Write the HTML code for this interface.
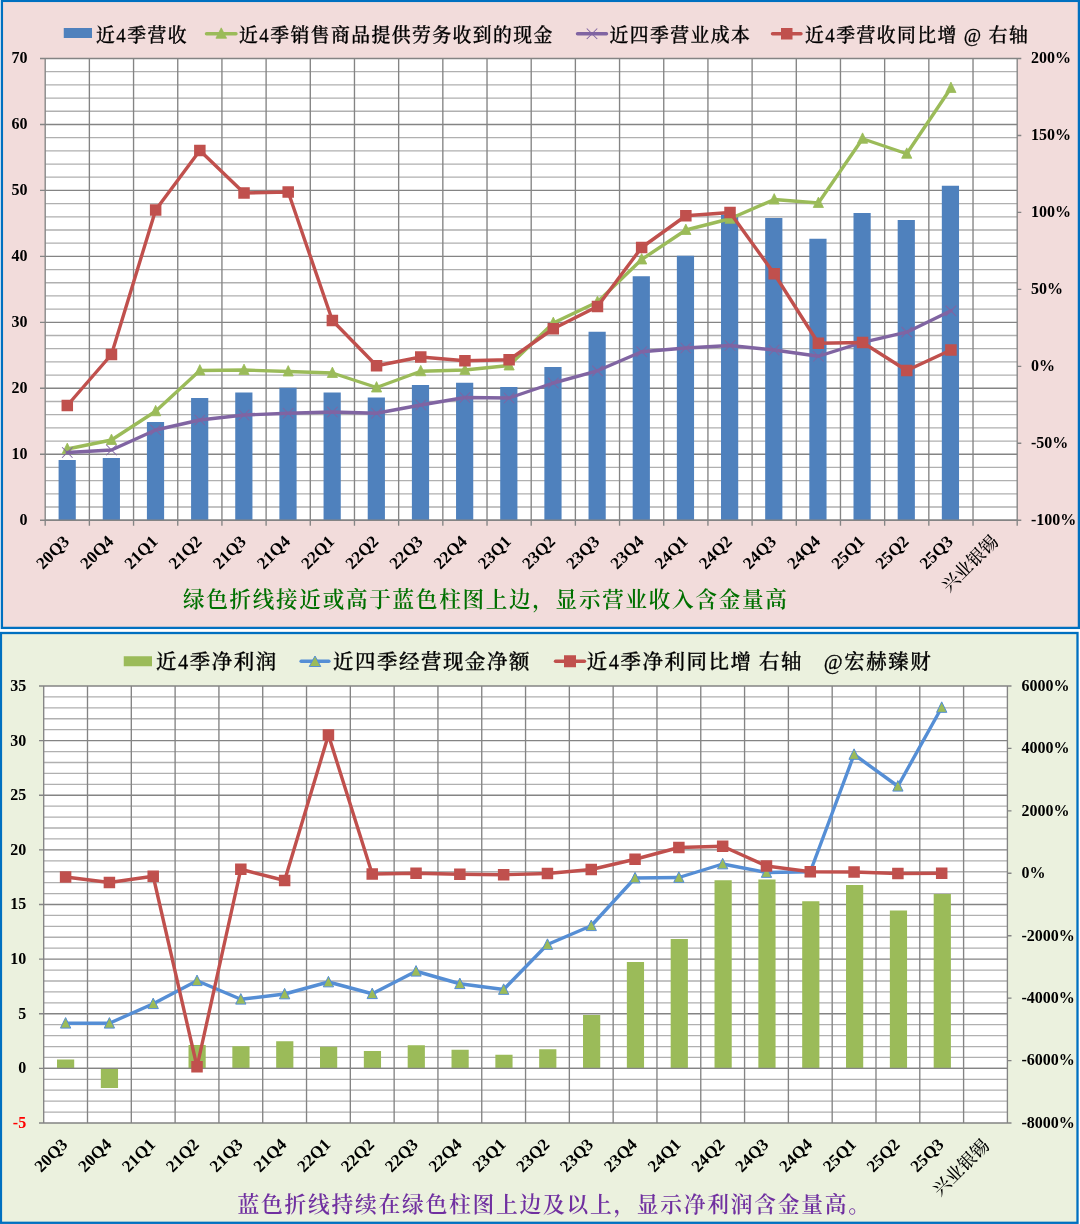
<!DOCTYPE html>
<html lang="zh-CN">
<head>
<meta charset="utf-8">
<title>兴业银锡</title>
<style>
html,body{margin:0;padding:0;background:#fff;}
body{width:1080px;height:1224px;overflow:hidden;font-family:"Liberation Serif","Noto Serif CJK SC",serif;}
svg{display:block;}
</style>
</head>
<body>
<svg width="1080" height="1224" viewBox="0 0 1080 1224">

<g>
<rect x="1.9" y="0.9" width="1077" height="627" fill="#F2DCDB" stroke="#0070C0" stroke-width="2.3"/>
<rect x="45.2" y="58.5" width="972" height="461.7" fill="#fff"/>
<path d="M45.2 71.69H1017.2M45.2 84.88H1017.2M45.2 98.07H1017.2M45.2 111.27H1017.2M45.2 137.65H1017.2M45.2 150.84H1017.2M45.2 164.03H1017.2M45.2 177.22H1017.2M45.2 203.61H1017.2M45.2 216.8H1017.2M45.2 229.99H1017.2M45.2 243.18H1017.2M45.2 269.56H1017.2M45.2 282.75H1017.2M45.2 295.95H1017.2M45.2 309.14H1017.2M45.2 335.52H1017.2M45.2 348.71H1017.2M45.2 361.9H1017.2M45.2 375.09H1017.2M45.2 401.48H1017.2M45.2 414.67H1017.2M45.2 427.86H1017.2M45.2 441.05H1017.2M45.2 467.43H1017.2M45.2 480.63H1017.2M45.2 493.82H1017.2M45.2 507.01H1017.2" stroke="#B0B0B0" stroke-width="1.3" fill="none"/>
<path d="M40 58.5H1017.2M40 124.46H1017.2M40 190.41H1017.2M40 256.37H1017.2M40 322.33H1017.2M40 388.29H1017.2M40 454.24H1017.2M40 520.2H1017.2M45.2 58.5V525.8M89.38 58.5V525.8M133.56 58.5V525.8M177.75 58.5V525.8M221.93 58.5V525.8M266.11 58.5V525.8M310.29 58.5V525.8M354.47 58.5V525.8M398.65 58.5V525.8M442.84 58.5V525.8M487.02 58.5V525.8M531.2 58.5V525.8M575.38 58.5V525.8M619.56 58.5V525.8M663.75 58.5V525.8M707.93 58.5V525.8M752.11 58.5V525.8M796.29 58.5V525.8M840.47 58.5V525.8M884.65 58.5V525.8M928.84 58.5V525.8M973.02 58.5V525.8M1017.2 58.5V525.8M1017.2 58.5H1021.3M1017.2 135.45H1021.3M1017.2 212.4H1021.3M1017.2 289.35H1021.3M1017.2 366.3H1021.3M1017.2 443.25H1021.3M1017.2 520.2H1021.3" stroke="#848484" stroke-width="1.35" fill="none"/>
<rect x="58.59" y="460" width="17.2" height="60.2" fill="#4F81BD"/>
<rect x="102.75" y="458" width="17.2" height="62.2" fill="#4F81BD"/>
<rect x="146.91" y="422" width="17.2" height="98.2" fill="#4F81BD"/>
<rect x="191.08" y="398" width="17.2" height="122.2" fill="#4F81BD"/>
<rect x="235.24" y="392.5" width="17.2" height="127.7" fill="#4F81BD"/>
<rect x="279.4" y="387.75" width="17.2" height="132.45" fill="#4F81BD"/>
<rect x="323.56" y="392.5" width="17.2" height="127.7" fill="#4F81BD"/>
<rect x="367.72" y="397.5" width="17.2" height="122.7" fill="#4F81BD"/>
<rect x="411.89" y="385" width="17.2" height="135.2" fill="#4F81BD"/>
<rect x="456.05" y="382.75" width="17.2" height="137.45" fill="#4F81BD"/>
<rect x="500.21" y="387" width="17.2" height="133.2" fill="#4F81BD"/>
<rect x="544.37" y="367" width="17.2" height="153.2" fill="#4F81BD"/>
<rect x="588.53" y="331.75" width="17.2" height="188.45" fill="#4F81BD"/>
<rect x="632.69" y="276.25" width="17.2" height="243.95" fill="#4F81BD"/>
<rect x="676.86" y="255.75" width="17.2" height="264.45" fill="#4F81BD"/>
<rect x="721.02" y="214.5" width="17.2" height="305.7" fill="#4F81BD"/>
<rect x="765.18" y="218" width="17.2" height="302.2" fill="#4F81BD"/>
<rect x="809.34" y="238.75" width="17.2" height="281.45" fill="#4F81BD"/>
<rect x="853.5" y="213" width="17.2" height="307.2" fill="#4F81BD"/>
<rect x="897.67" y="220" width="17.2" height="300.2" fill="#4F81BD"/>
<rect x="941.83" y="185.75" width="17.2" height="334.45" fill="#4F81BD"/>
<path d="M45.2 520.2H1017.2" stroke="#848484" stroke-width="1.35" fill="none"/>
<polyline points="67.29,449 111.47,440 155.65,411.25 199.84,370.5 244.02,370 288.2,371.5 332.38,373 376.56,387.5 420.75,371.25 464.93,370 509.11,365.5 553.29,323 597.47,302 641.65,259.5 685.84,230 730.02,218.75 774.2,199.5 818.38,203 862.56,138.75 906.75,153.75 950.93,88" fill="none" stroke="#9BBB59" stroke-width="3.4" stroke-linecap="round" stroke-linejoin="round"/>
<path d="M67.29 443.1 L72.39 453.5 L62.19 453.5 ZM111.47 434.1 L116.57 444.5 L106.37 444.5 ZM155.65 405.35 L160.75 415.75 L150.55 415.75 ZM199.84 364.6 L204.94 375 L194.74 375 ZM244.02 364.1 L249.12 374.5 L238.92 374.5 ZM288.2 365.6 L293.3 376 L283.1 376 ZM332.38 367.1 L337.48 377.5 L327.28 377.5 ZM376.56 381.6 L381.66 392 L371.46 392 ZM420.75 365.35 L425.85 375.75 L415.65 375.75 ZM464.93 364.1 L470.03 374.5 L459.83 374.5 ZM509.11 359.6 L514.21 370 L504.01 370 ZM553.29 317.1 L558.39 327.5 L548.19 327.5 ZM597.47 296.1 L602.57 306.5 L592.37 306.5 ZM641.65 253.6 L646.75 264 L636.55 264 ZM685.84 224.1 L690.94 234.5 L680.74 234.5 ZM730.02 212.85 L735.12 223.25 L724.92 223.25 ZM774.2 193.6 L779.3 204 L769.1 204 ZM818.38 197.1 L823.48 207.5 L813.28 207.5 ZM862.56 132.85 L867.66 143.25 L857.46 143.25 ZM906.75 147.85 L911.85 158.25 L901.65 158.25 ZM950.93 82.1 L956.03 92.5 L945.83 92.5 Z" fill="#9BBB59" stroke="#9BBB59" stroke-width="0.8" stroke-linejoin="miter"/>
<polyline points="67.29,452.5 111.47,450 155.65,430 199.84,420 244.02,415 288.2,413.25 332.38,412 376.56,413.25 420.75,405 464.93,397.5 509.11,398 553.29,383 597.47,370.8 641.65,351.75 685.84,348 730.02,345.5 774.2,350 818.38,356.25 862.56,342.3 906.75,332.2 950.93,310.8" fill="none" stroke="#8064A2" stroke-width="3.4" stroke-linecap="round" stroke-linejoin="round"/>
<path d="M62.04 447.25L72.54 457.75M62.04 457.75L72.54 447.25M106.22 444.75L116.72 455.25M106.22 455.25L116.72 444.75M150.4 424.75L160.9 435.25M150.4 435.25L160.9 424.75M194.59 414.75L205.09 425.25M194.59 425.25L205.09 414.75M238.77 409.75L249.27 420.25M238.77 420.25L249.27 409.75M282.95 408L293.45 418.5M282.95 418.5L293.45 408M327.13 406.75L337.63 417.25M327.13 417.25L337.63 406.75M371.31 408L381.81 418.5M371.31 418.5L381.81 408M415.5 399.75L426 410.25M415.5 410.25L426 399.75M459.68 392.25L470.18 402.75M459.68 402.75L470.18 392.25M503.86 392.75L514.36 403.25M503.86 403.25L514.36 392.75M548.04 377.75L558.54 388.25M548.04 388.25L558.54 377.75M592.22 365.55L602.72 376.05M592.22 376.05L602.72 365.55M636.4 346.5L646.9 357M636.4 357L646.9 346.5M680.59 342.75L691.09 353.25M680.59 353.25L691.09 342.75M724.77 340.25L735.27 350.75M724.77 350.75L735.27 340.25M768.95 344.75L779.45 355.25M768.95 355.25L779.45 344.75M813.13 351L823.63 361.5M813.13 361.5L823.63 351M857.31 337.05L867.81 347.55M857.31 347.55L867.81 337.05M901.5 326.95L912 337.45M901.5 337.45L912 326.95M945.68 305.55L956.18 316.05M945.68 316.05L956.18 305.55" fill="none" stroke="#8064A2" stroke-width="1.05"/>
<polyline points="67.29,405.5 111.47,354.5 155.65,210 199.84,150.5 244.02,193 288.2,192 332.38,320.5 376.56,365.75 420.75,357 464.93,360.75 509.11,359.75 553.29,328.75 597.47,306.5 641.65,247.5 685.84,215.75 730.02,212.5 774.2,273.75 818.38,343.25 862.56,342.5 906.75,370.5 950.93,350" fill="none" stroke="#C0504D" stroke-width="3.4" stroke-linecap="round" stroke-linejoin="round"/>
<path d="M61.54 399.75h11.5v11.5h-11.5ZM105.72 348.75h11.5v11.5h-11.5ZM149.9 204.25h11.5v11.5h-11.5ZM194.09 144.75h11.5v11.5h-11.5ZM238.27 187.25h11.5v11.5h-11.5ZM282.45 186.25h11.5v11.5h-11.5ZM326.63 314.75h11.5v11.5h-11.5ZM370.81 360h11.5v11.5h-11.5ZM415 351.25h11.5v11.5h-11.5ZM459.18 355h11.5v11.5h-11.5ZM503.36 354h11.5v11.5h-11.5ZM547.54 323h11.5v11.5h-11.5ZM591.72 300.75h11.5v11.5h-11.5ZM635.9 241.75h11.5v11.5h-11.5ZM680.09 210h11.5v11.5h-11.5ZM724.27 206.75h11.5v11.5h-11.5ZM768.45 268h11.5v11.5h-11.5ZM812.63 337.5h11.5v11.5h-11.5ZM856.81 336.75h11.5v11.5h-11.5ZM901 364.75h11.5v11.5h-11.5ZM945.18 344.25h11.5v11.5h-11.5Z" fill="#C0504D"/>
<g font-family='"Liberation Serif", "Noto Serif CJK SC", serif' font-weight="bold" font-size="16" fill="#000">
<text x="27.5" y="63.4" text-anchor="end">70</text>
<text x="27.5" y="129.36" text-anchor="end">60</text>
<text x="27.5" y="195.31" text-anchor="end">50</text>
<text x="27.5" y="261.27" text-anchor="end">40</text>
<text x="27.5" y="327.23" text-anchor="end">30</text>
<text x="27.5" y="393.19" text-anchor="end">20</text>
<text x="27.5" y="459.14" text-anchor="end">10</text>
<text x="27.5" y="525.1" text-anchor="end">0</text>
<text x="1031" y="63.4">200%</text>
<text x="1031" y="140.35">150%</text>
<text x="1031" y="217.3">100%</text>
<text x="1031" y="294.25">50%</text>
<text x="1031" y="371.2">0%</text>
<text x="1031" y="448.15">-50%</text>
<text x="1031" y="525.1">-100%</text>
<text transform="translate(70.29 542.5) rotate(-45)" text-anchor="end" font-size="17">20Q3</text>
<text transform="translate(114.47 542.5) rotate(-45)" text-anchor="end" font-size="17">20Q4</text>
<text transform="translate(158.65 542.5) rotate(-45)" text-anchor="end" font-size="17">21Q1</text>
<text transform="translate(202.84 542.5) rotate(-45)" text-anchor="end" font-size="17">21Q2</text>
<text transform="translate(247.02 542.5) rotate(-45)" text-anchor="end" font-size="17">21Q3</text>
<text transform="translate(291.2 542.5) rotate(-45)" text-anchor="end" font-size="17">21Q4</text>
<text transform="translate(335.38 542.5) rotate(-45)" text-anchor="end" font-size="17">22Q1</text>
<text transform="translate(379.56 542.5) rotate(-45)" text-anchor="end" font-size="17">22Q2</text>
<text transform="translate(423.75 542.5) rotate(-45)" text-anchor="end" font-size="17">22Q3</text>
<text transform="translate(467.93 542.5) rotate(-45)" text-anchor="end" font-size="17">22Q4</text>
<text transform="translate(512.11 542.5) rotate(-45)" text-anchor="end" font-size="17">23Q1</text>
<text transform="translate(556.29 542.5) rotate(-45)" text-anchor="end" font-size="17">23Q2</text>
<text transform="translate(600.47 542.5) rotate(-45)" text-anchor="end" font-size="17">23Q3</text>
<text transform="translate(644.65 542.5) rotate(-45)" text-anchor="end" font-size="17">23Q4</text>
<text transform="translate(688.84 542.5) rotate(-45)" text-anchor="end" font-size="17">24Q1</text>
<text transform="translate(733.02 542.5) rotate(-45)" text-anchor="end" font-size="17">24Q2</text>
<text transform="translate(777.2 542.5) rotate(-45)" text-anchor="end" font-size="17">24Q3</text>
<text transform="translate(821.38 542.5) rotate(-45)" text-anchor="end" font-size="17">24Q4</text>
<text transform="translate(865.56 542.5) rotate(-45)" text-anchor="end" font-size="17">25Q1</text>
<text transform="translate(909.75 542.5) rotate(-45)" text-anchor="end" font-size="17">25Q2</text>
<text transform="translate(953.93 542.5) rotate(-45)" text-anchor="end" font-size="17">25Q3</text>
<text transform="translate(999.31 542.8) rotate(-45)" text-anchor="end" font-weight="500" font-size="17.8">兴业银锡</text>
</g>
<g font-family='"Liberation Serif", "Noto Serif CJK SC", serif' font-size="18.83" font-weight="500" fill="#000">
<rect x="63.75" y="28" width="28.25" height="10" fill="#4F81BD"/>
<text x="96.11" y="41.8" xml:space="preserve" letter-spacing="1.42" stroke="#000" stroke-width="0.3">近4季营收</text>
<path d="M206.5 33.75H236" stroke="#9BBB59" stroke-width="3.4" stroke-linecap="round" fill="none"/>
<path d="M221.25 27.85 L226.55 38.25 L215.95 38.25 Z" fill="#9BBB59" stroke="#9BBB59" stroke-width="0.8"/>
<text x="239.11" y="41.8" xml:space="preserve" letter-spacing="1.42" stroke="#000" stroke-width="0.3">近4季销售商品提供劳务收到的现金</text>
<path d="M577.5 33.75H606.5" stroke="#8064A2" stroke-width="3.4" stroke-linecap="round" fill="none"/>
<path d="M586.75 28.5L597.25 39M586.75 39L597.25 28.5" stroke="#8064A2" stroke-width="1.05" fill="none"/>
<text x="609.61" y="41.8" xml:space="preserve" letter-spacing="1.42" stroke="#000" stroke-width="0.3">近四季营业成本</text>
<path d="M772.5 33.75H801" stroke="#C0504D" stroke-width="3.4" stroke-linecap="round" fill="none"/>
<rect x="781" y="28" width="11.5" height="11.5" fill="#C0504D"/>
<text x="805.11" y="41.8" xml:space="preserve" letter-spacing="1.42" stroke="#000" stroke-width="0.3">近4季营收同比增 @ 右轴</text>
</g>
<text x="182.88" y="607.1" font-family='"Liberation Serif", "Noto Serif CJK SC", serif' font-size="21.55" font-weight="600" fill="#007000" letter-spacing="1.75">绿色折线接近或高于蓝色柱图上边，显示营业收入含金量高</text>
</g>
<g>
<rect x="0.95" y="633" width="1076.55" height="589.8" fill="#EBF1DE" stroke="#0070C0" stroke-width="2.3"/>
<rect x="43.7" y="686" width="963.7" height="437" fill="#fff"/>
<path d="M43.7 696.92H1007.4M43.7 707.85H1007.4M43.7 718.77H1007.4M43.7 729.7H1007.4M43.7 751.55H1007.4M43.7 762.48H1007.4M43.7 773.4H1007.4M43.7 784.33H1007.4M43.7 806.17H1007.4M43.7 817.1H1007.4M43.7 828.02H1007.4M43.7 838.95H1007.4M43.7 860.8H1007.4M43.7 871.73H1007.4M43.7 882.65H1007.4M43.7 893.58H1007.4M43.7 915.42H1007.4M43.7 926.35H1007.4M43.7 937.27H1007.4M43.7 948.2H1007.4M43.7 970.05H1007.4M43.7 980.98H1007.4M43.7 991.9H1007.4M43.7 1002.83H1007.4M43.7 1024.67H1007.4M43.7 1035.6H1007.4M43.7 1046.53H1007.4M43.7 1057.45H1007.4M43.7 1079.3H1007.4M43.7 1090.22H1007.4M43.7 1101.15H1007.4M43.7 1112.08H1007.4" stroke="#B0B0B0" stroke-width="1.3" fill="none"/>
<path d="M39 686H1007.4M39 740.62H1007.4M39 795.25H1007.4M39 849.88H1007.4M39 904.5H1007.4M39 959.12H1007.4M39 1013.75H1007.4M39 1068.38H1007.4M39 1123H1007.4M43.7 686V1123M87.5 686V1123M131.31 686V1123M175.11 686V1123M218.92 686V1123M262.72 686V1123M306.53 686V1123M350.33 686V1123M394.14 686V1123M437.94 686V1123M481.75 686V1123M525.55 686V1123M569.35 686V1123M613.16 686V1123M656.96 686V1123M700.77 686V1123M744.57 686V1123M788.38 686V1123M832.18 686V1123M875.99 686V1123M919.79 686V1123M963.6 686V1123M1007.4 686V1123M1007.4 686H1011.5M1007.4 748.43H1011.5M1007.4 810.86H1011.5M1007.4 873.29H1011.5M1007.4 935.71H1011.5M1007.4 998.14H1011.5M1007.4 1060.57H1011.5M1007.4 1123H1011.5" stroke="#848484" stroke-width="1.35" fill="none"/>
<rect x="57" y="1059.5" width="17.2" height="8.9" fill="#9BBB59"/>
<rect x="100.84" y="1068.4" width="17.2" height="19.6" fill="#9BBB59"/>
<rect x="188.51" y="1045" width="17.2" height="23.4" fill="#9BBB59"/>
<rect x="232.34" y="1046.25" width="17.2" height="22.15" fill="#9BBB59"/>
<rect x="276.17" y="1041.25" width="17.2" height="27.15" fill="#9BBB59"/>
<rect x="320.01" y="1046.75" width="17.2" height="21.65" fill="#9BBB59"/>
<rect x="363.84" y="1051" width="17.2" height="17.4" fill="#9BBB59"/>
<rect x="407.68" y="1045.25" width="17.2" height="23.15" fill="#9BBB59"/>
<rect x="451.51" y="1049.75" width="17.2" height="18.65" fill="#9BBB59"/>
<rect x="495.35" y="1054.75" width="17.2" height="13.65" fill="#9BBB59"/>
<rect x="539.18" y="1049.25" width="17.2" height="19.15" fill="#9BBB59"/>
<rect x="583.02" y="1015" width="17.2" height="53.4" fill="#9BBB59"/>
<rect x="626.85" y="962" width="17.2" height="106.4" fill="#9BBB59"/>
<rect x="670.69" y="939" width="17.2" height="129.4" fill="#9BBB59"/>
<rect x="714.52" y="880.25" width="17.2" height="188.15" fill="#9BBB59"/>
<rect x="758.36" y="879.5" width="17.2" height="188.9" fill="#9BBB59"/>
<rect x="802.19" y="901.25" width="17.2" height="167.15" fill="#9BBB59"/>
<rect x="846.02" y="885" width="17.2" height="183.4" fill="#9BBB59"/>
<rect x="889.86" y="910.5" width="17.2" height="157.9" fill="#9BBB59"/>
<rect x="933.69" y="894" width="17.2" height="174.4" fill="#9BBB59"/>
<path d="M43.7 1068.4H1007.4" stroke="#848484" stroke-width="1.35" fill="none"/>
<polyline points="65.6,1023.25 109.41,1023.25 153.21,1003.75 197.02,980.75 240.82,999.25 284.62,994 328.43,982 372.23,993.75 416.04,971.25 459.84,983.75 503.65,989.5 547.45,944.5 591.26,925.75 635.06,878 678.87,877.5 722.67,864 766.48,872.5 810.28,871.75 854.08,754.5 897.89,786.25 941.69,707.5" fill="none" stroke="#558ED5" stroke-width="3.4" stroke-linecap="round" stroke-linejoin="round"/>
<path d="M65.6 1017.6 L70.75 1028.1 L60.45 1028.1 ZM109.41 1017.6 L114.56 1028.1 L104.26 1028.1 ZM153.21 998.1 L158.36 1008.6 L148.06 1008.6 ZM197.02 975.1 L202.17 985.6 L191.87 985.6 ZM240.82 993.6 L245.97 1004.1 L235.67 1004.1 ZM284.62 988.35 L289.77 998.85 L279.48 998.85 ZM328.43 976.35 L333.58 986.85 L323.28 986.85 ZM372.23 988.1 L377.38 998.6 L367.08 998.6 ZM416.04 965.6 L421.19 976.1 L410.89 976.1 ZM459.84 978.1 L464.99 988.6 L454.69 988.6 ZM503.65 983.85 L508.8 994.35 L498.5 994.35 ZM547.45 938.85 L552.6 949.35 L542.3 949.35 ZM591.26 920.1 L596.41 930.6 L586.11 930.6 ZM635.06 872.35 L640.21 882.85 L629.91 882.85 ZM678.87 871.85 L684.02 882.35 L673.72 882.35 ZM722.67 858.35 L727.82 868.85 L717.52 868.85 ZM766.48 866.85 L771.62 877.35 L761.33 877.35 ZM810.28 866.1 L815.43 876.6 L805.13 876.6 ZM854.08 748.85 L859.23 759.35 L848.93 759.35 ZM897.89 780.6 L903.04 791.1 L892.74 791.1 ZM941.69 701.85 L946.84 712.35 L936.54 712.35 Z" fill="#9BBB59" stroke="#558ED5" stroke-width="1" stroke-linejoin="miter"/>
<polyline points="65.6,877 109.41,882.5 153.21,876.25 197.02,1066.75 240.82,869.25 284.62,880.5 328.43,735 372.23,874 416.04,873.25 459.84,874.25 503.65,874.75 547.45,873.5 591.26,869.5 635.06,859.25 678.87,847.5 722.67,846.25 766.48,866 810.28,871.75 854.08,872 897.89,873.5 941.69,873.25" fill="none" stroke="#C0504D" stroke-width="3.4" stroke-linecap="round" stroke-linejoin="round"/>
<path d="M59.85 871.25h11.5v11.5h-11.5ZM103.66 876.75h11.5v11.5h-11.5ZM147.46 870.5h11.5v11.5h-11.5ZM191.27 1061h11.5v11.5h-11.5ZM235.07 863.5h11.5v11.5h-11.5ZM278.88 874.75h11.5v11.5h-11.5ZM322.68 729.25h11.5v11.5h-11.5ZM366.48 868.25h11.5v11.5h-11.5ZM410.29 867.5h11.5v11.5h-11.5ZM454.09 868.5h11.5v11.5h-11.5ZM497.9 869h11.5v11.5h-11.5ZM541.7 867.75h11.5v11.5h-11.5ZM585.51 863.75h11.5v11.5h-11.5ZM629.31 853.5h11.5v11.5h-11.5ZM673.12 841.75h11.5v11.5h-11.5ZM716.92 840.5h11.5v11.5h-11.5ZM760.73 860.25h11.5v11.5h-11.5ZM804.53 866h11.5v11.5h-11.5ZM848.33 866.25h11.5v11.5h-11.5ZM892.14 867.75h11.5v11.5h-11.5ZM935.94 867.5h11.5v11.5h-11.5Z" fill="#C0504D"/>
<g font-family='"Liberation Serif", "Noto Serif CJK SC", serif' font-weight="bold" font-size="16" fill="#000">
<text x="26.2" y="690.9" text-anchor="end">35</text>
<text x="26.2" y="745.52" text-anchor="end">30</text>
<text x="26.2" y="800.15" text-anchor="end">25</text>
<text x="26.2" y="854.77" text-anchor="end">20</text>
<text x="26.2" y="909.4" text-anchor="end">15</text>
<text x="26.2" y="964.02" text-anchor="end">10</text>
<text x="26.2" y="1018.65" text-anchor="end">5</text>
<text x="26.2" y="1073.28" text-anchor="end">0</text>
<text x="26.2" y="1127.9" text-anchor="end" fill="#FF0000">-5</text>
<text x="1021.5" y="690.9">6000%</text>
<text x="1021.5" y="753.33">4000%</text>
<text x="1021.5" y="815.76">2000%</text>
<text x="1021.5" y="878.19">0%</text>
<text x="1021.5" y="940.61">-2000%</text>
<text x="1021.5" y="1003.04">-4000%</text>
<text x="1021.5" y="1065.47">-6000%</text>
<text x="1021.5" y="1127.9">-8000%</text>
<text transform="translate(68.6 1145.5) rotate(-45)" text-anchor="end" font-size="17">20Q3</text>
<text transform="translate(112.41 1145.5) rotate(-45)" text-anchor="end" font-size="17">20Q4</text>
<text transform="translate(156.21 1145.5) rotate(-45)" text-anchor="end" font-size="17">21Q1</text>
<text transform="translate(200.02 1145.5) rotate(-45)" text-anchor="end" font-size="17">21Q2</text>
<text transform="translate(243.82 1145.5) rotate(-45)" text-anchor="end" font-size="17">21Q3</text>
<text transform="translate(287.62 1145.5) rotate(-45)" text-anchor="end" font-size="17">21Q4</text>
<text transform="translate(331.43 1145.5) rotate(-45)" text-anchor="end" font-size="17">22Q1</text>
<text transform="translate(375.23 1145.5) rotate(-45)" text-anchor="end" font-size="17">22Q2</text>
<text transform="translate(419.04 1145.5) rotate(-45)" text-anchor="end" font-size="17">22Q3</text>
<text transform="translate(462.84 1145.5) rotate(-45)" text-anchor="end" font-size="17">22Q4</text>
<text transform="translate(506.65 1145.5) rotate(-45)" text-anchor="end" font-size="17">23Q1</text>
<text transform="translate(550.45 1145.5) rotate(-45)" text-anchor="end" font-size="17">23Q2</text>
<text transform="translate(594.26 1145.5) rotate(-45)" text-anchor="end" font-size="17">23Q3</text>
<text transform="translate(638.06 1145.5) rotate(-45)" text-anchor="end" font-size="17">23Q4</text>
<text transform="translate(681.87 1145.5) rotate(-45)" text-anchor="end" font-size="17">24Q1</text>
<text transform="translate(725.67 1145.5) rotate(-45)" text-anchor="end" font-size="17">24Q2</text>
<text transform="translate(769.48 1145.5) rotate(-45)" text-anchor="end" font-size="17">24Q3</text>
<text transform="translate(813.28 1145.5) rotate(-45)" text-anchor="end" font-size="17">24Q4</text>
<text transform="translate(857.08 1145.5) rotate(-45)" text-anchor="end" font-size="17">25Q1</text>
<text transform="translate(900.89 1145.5) rotate(-45)" text-anchor="end" font-size="17">25Q2</text>
<text transform="translate(944.69 1145.5) rotate(-45)" text-anchor="end" font-size="17">25Q3</text>
<text transform="translate(990.4 1146.8) rotate(-45)" text-anchor="end" font-weight="500" font-size="17.8">兴业银锡</text>
</g>
<g font-family='"Liberation Serif", "Noto Serif CJK SC", serif' font-size="20.46" font-weight="500" fill="#000">
<rect x="123.75" y="656.25" width="28.25" height="10" fill="#9BBB59"/>
<text x="156.07" y="668.6" xml:space="preserve" letter-spacing="1.54" stroke="#000" stroke-width="0.3">近4季净利润</text>
<path d="M301.1 661.25H328.9" stroke="#558ED5" stroke-width="3.4" stroke-linecap="round" fill="none"/>
<path d="M315 656 L320.75 666.5 L309.25 666.5 Z" fill="#9BBB59" stroke="#558ED5" stroke-width="1"/>
<text x="333.07" y="668.6" xml:space="preserve" letter-spacing="1.54" stroke="#000" stroke-width="0.3">近四季经营现金净额</text>
<path d="M555.5 661.25H584.5" stroke="#C0504D" stroke-width="3.4" stroke-linecap="round" fill="none"/>
<rect x="564" y="655.25" width="12" height="12" fill="#C0504D"/>
<text x="586.77" y="668.6" xml:space="preserve" letter-spacing="1.54" stroke="#000" stroke-width="0.3">近4季净利同比增 右轴</text>
<text x="823.87" y="668.6" xml:space="preserve" letter-spacing="1.54" stroke="#000" stroke-width="0.3">@宏赫臻财</text>
</g>
<text x="237.48" y="1212.2" font-family='"Liberation Serif", "Noto Serif CJK SC", serif' font-size="21.74" font-weight="600" fill="#7030A0" letter-spacing="1.76">蓝色折线持续在绿色柱图上边及以上，显示净利润含金量高。</text>
</g>
</svg>
</body>
</html>
